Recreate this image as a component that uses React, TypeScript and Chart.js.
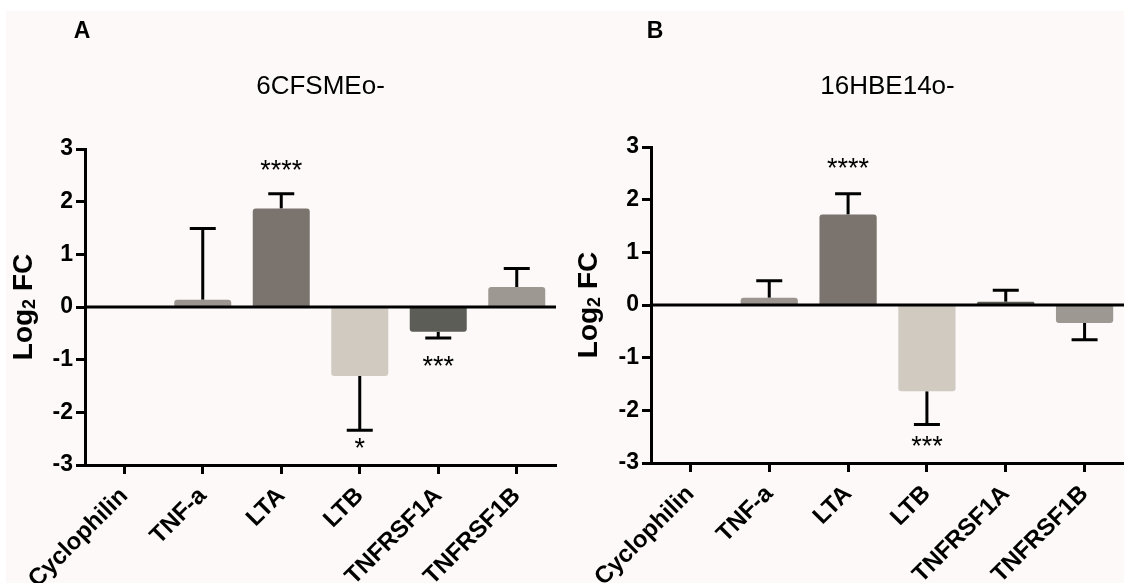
import React, { useEffect, useRef } from 'react';
import { Chart, registerables } from 'chart.js';

Chart.register(...registerables);

// ---------- data ----------
const categories = ['Cyclophilin', 'TNF-a', 'LTA', 'LTB', 'TNFRSF1A', 'TNFRSF1B'];

// Panel A: 6CFSMEo-
const titleA = '6CFSMEo-';
const valuesA = [0, 0.14, 1.87, -1.31, -0.47, 0.38];
const errorsA = [0, 1.35, 0.28, 1.03, 0.12, 0.35];
const starsA = ['', '', '****', '*', '***', ''];
const starValueA: (number | null)[] = [null, null, 2.72, -2.56, -1.0, null];

// Panel B: 16HBE14o-
const titleB = '16HBE14o-';
const valuesB = [0, 0.14, 1.72, -1.64, 0.06, -0.34];
const errorsB = [0, 0.32, 0.39, 0.63, 0.22, 0.32];
const starsB = ['', '', '****', '***', '', ''];
const starValueB: (number | null)[] = [null, null, 2.71, -2.57, null, null];

const yTicks = [-3, -2, -1, 0, 1, 2, 3];

const barColors = ['#9c958f', '#9c958f', '#7b746e', '#d0cac1', '#5c5d56', '#9e9893'];

const FONT = "'Liberation Sans', Arial, Helvetica, sans-serif";

type PanelProps = {
  left: number;
  width: number;
  height: number;
  areaLeft: number;
  areaRight: number;
  areaTop: number;
  areaBottom: number;
  letter: string;
  letterX: number;
  title: string;
  yTitleX: number;
  values: number[];
  errors: number[];
  stars: string[];
  starValues: (number | null)[];
};

function Panel(p: PanelProps) {
  const ref = useRef<HTMLCanvasElement>(null);

  useEffect(() => {
    const canvas = ref.current;
    if (!canvas) return;

    const extras = {
      id: 'extras',
      beforeDatasetsDraw(chart: any) {
        const ctx = chart.ctx;
        const xs = chart.scales.x;
        const ys = chart.scales.y;
        ctx.save();
        ctx.strokeStyle = '#000';
        ctx.lineWidth = 3;
        p.values.forEach((v, i) => {
          const e = p.errors[i];
          if (!e) return;
          const end = v >= 0 ? v + e : v - e;
          const px = xs.getPixelForValue(i);
          const y0 = ys.getPixelForValue(v);
          const y1 = ys.getPixelForValue(end);
          ctx.beginPath();
          ctx.moveTo(px, y0);
          ctx.lineTo(px, y1);
          ctx.moveTo(px - 13, y1);
          ctx.lineTo(px + 13, y1);
          ctx.stroke();
        });
        ctx.restore();
      },
      afterDatasetsDraw(chart: any) {
        const ctx = chart.ctx;
        const ys = chart.scales.y;
        const area = chart.chartArea;
        const y0 = ys.getPixelForValue(0);
        ctx.save();
        ctx.strokeStyle = '#000';
        ctx.lineWidth = 3;
        ctx.beginPath();
        ctx.moveTo(area.left, y0);
        ctx.lineTo(area.right, y0);
        ctx.stroke();
        ctx.restore();
      },
      afterDraw(chart: any) {
        const ctx = chart.ctx;
        const xs = chart.scales.x;
        const ys = chart.scales.y;
        const area = chart.chartArea;
        ctx.save();
        ctx.fillStyle = '#000';

        // significance stars
        ctx.font = `27px ${FONT}`;
        ctx.textAlign = 'center';
        ctx.textBaseline = 'alphabetic';
        p.stars.forEach((s, i) => {
          const sv = p.starValues[i];
          if (!s || sv === null) return;
          ctx.fillText(s, xs.getPixelForValue(i), ys.getPixelForValue(sv) + 15);
        });

        // panel letter
        ctx.font = `bold 23px ${FONT}`;
        ctx.textBaseline = 'middle';
        ctx.fillText(p.letter, p.letterX, 32);

        // panel title
        ctx.font = `26px ${FONT}`;
        ctx.fillText(p.title, (area.left + area.right) / 2, 87);

        // y-axis title: Log2 FC with subscript
        const cy = (area.top + area.bottom) / 2;
        ctx.translate(p.yTitleX, cy);
        ctx.rotate(-Math.PI / 2);
        ctx.textAlign = 'left';
        const big = `bold 28px ${FONT}`;
        const small = `bold 18px ${FONT}`;
        ctx.font = big;
        const wLog = ctx.measureText('Log').width;
        const wFC = ctx.measureText(' FC').width;
        ctx.font = small;
        const w2 = ctx.measureText('2').width;
        const total = wLog + w2 + wFC;
        let x = -total / 2;
        ctx.font = big;
        ctx.fillText('Log', x, 0);
        x += wLog;
        ctx.font = small;
        ctx.fillText('2', x, 6);
        x += w2;
        ctx.font = big;
        ctx.fillText(' FC', x, 0);
        ctx.restore();
      },
    };

    const chart = new Chart(canvas, {
      type: 'bar',
      data: {
        labels: categories,
        datasets: [
          {
            data: p.values,
            backgroundColor: barColors,
            borderWidth: 0,
            borderRadius: 3,
            barPercentage: 0.726,
            categoryPercentage: 1,
          },
        ],
      },
      options: {
        responsive: false,
        animation: false,
        devicePixelRatio: 1,
        layout: {
          padding: { top: p.areaTop, left: 0, right: p.width - p.areaRight, bottom: 0 },
        },
        plugins: {
          legend: { display: false },
          tooltip: { enabled: false },
          title: { display: false },
        },
        scales: {
          x: {
            offset: true,
            grid: {
              offset: false,
              drawOnChartArea: false,
              drawTicks: true,
              tickLength: 9,
              tickWidth: 3,
              tickColor: '#000',
            },
            border: { display: true, color: '#000', width: 3 },
            ticks: {
              autoSkip: false,
              minRotation: 45,
              maxRotation: 45,
              padding: 8,
              color: '#000',
              font: { family: FONT, size: 24, weight: 'bold' },
            },
            afterFit(scale: any) {
              scale.height = p.height - p.areaBottom;
              scale.paddingLeft = 0;
              scale.paddingRight = 0;
            },
          },
          y: {
            min: -3,
            max: 3,
            afterBuildTicks(scale: any) {
              scale.ticks = yTicks.map((v) => ({ value: v }));
            },
            grid: {
              drawOnChartArea: false,
              drawTicks: true,
              tickLength: 9,
              tickWidth: 3,
              tickColor: '#000',
            },
            border: { display: true, color: '#000', width: 3 },
            ticks: {
              padding: 3,
              color: '#000',
              font: { family: FONT, size: 23, weight: 'bold' },
              callback: (v: any) => String(v),
            },
            afterFit(scale: any) {
              scale.width = p.areaLeft;
              scale.paddingTop = 0;
              scale.paddingBottom = 0;
            },
          },
        },
      },
      plugins: [extras],
    } as any);

    return () => chart.destroy();
  }, []);

  return (
    <canvas
      ref={ref}
      width={p.width}
      height={p.height}
      style={{ position: 'absolute', left: p.left, top: 0, width: p.width, height: p.height }}
    />
  );
}

export default function App() {
  return (
    <div
      style={{
        position: 'fixed',
        left: 0,
        top: 0,
        width: 1124,
        height: 583,
        background: '#ffffff',
        overflow: 'hidden',
      }}
    >
      <div
        style={{ position: 'absolute', left: 6, top: 11, right: 0, bottom: 0, background: '#fcf9f8' }}
      />
      <Panel
        left={0}
        width={562}
        height={583}
        areaLeft={85}
        areaRight={556}
        areaTop={149}
        areaBottom={465}
        letter="A"
        letterX={82}
        title={titleA}
        yTitleX={24}
        values={valuesA}
        errors={errorsA}
        stars={starsA}
        starValues={starValueA}
      />
      <Panel
        left={562}
        width={562}
        height={583}
        areaLeft={89}
        areaRight={562}
        areaTop={147}
        areaBottom={463}
        letter="B"
        letterX={93}
        title={titleB}
        yTitleX={27}
        values={valuesB}
        errors={errorsB}
        stars={starsB}
        starValues={starValueB}
      />
    </div>
  );
}
